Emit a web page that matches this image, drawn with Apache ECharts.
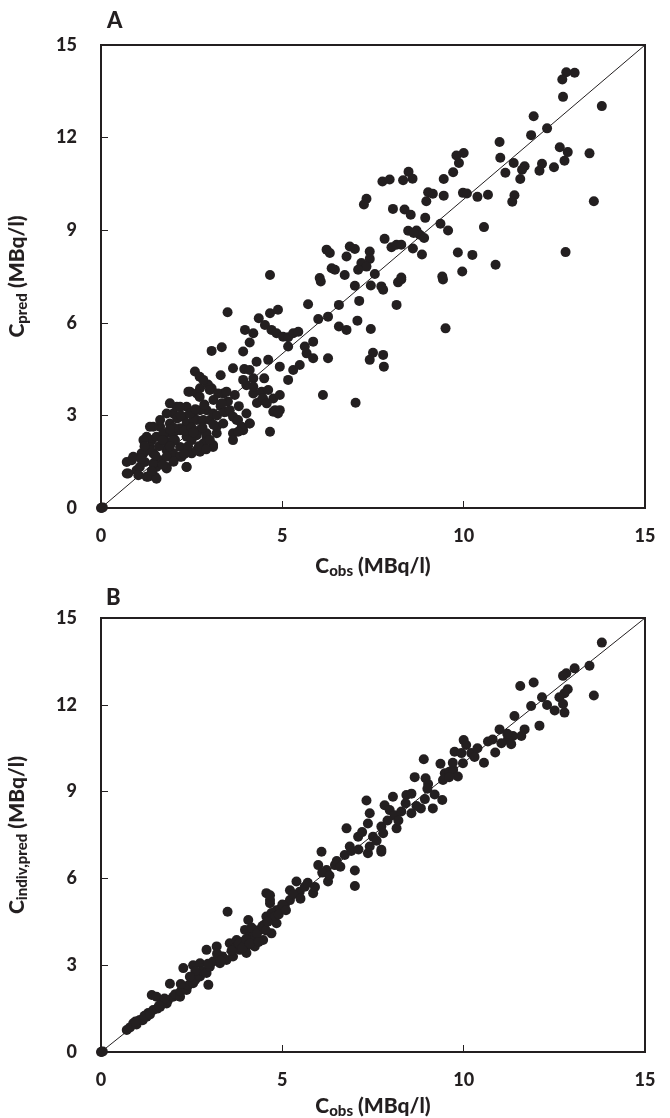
<!DOCTYPE html>
<html>
<head>
<meta charset="utf-8">
<script src="https://cdn.jsdelivr.net/npm/echarts@6/dist/echarts.min.js"></script>
<style>
  html, body { margin: 0; padding: 0; background: #fff; }
  #chart { width: 670px; height: 1118px; }
</style>
</head>
<body>
<div id="chart"></div>
<script>
// panel A: observed vs population predicted (MBq/l)
var pointsA = [
  [0, 0], [0.02, 0.01], [0.05, 0.02],
  [0.71, 1.49], [0.85, 1.55], [0.71, 1.12], [0.98, 1.22], [1.07, 1.33], [1.21, 1.49], [1.17, 1.77],
  [1.4, 2.2], [1.26, 2.31], [1.44, 1.77], [1.53, 1.33], [1.49, 1.01], [1.3, 1.01], [1.63, 1.55],
  [1.81, 1.33], [1.81, 1.87], [1.81, 2.14], [1.63, 2.63], [1.9, 2.74], [1.99, 3.06], [2.09, 3.28],
  [2.27, 2.95], [2.36, 2.74], [2.18, 2.58], [2.36, 2.31], [2.18, 1.98], [2.22, 1.66], [2.36, 1.33],
  [1.99, 1.77], [2.04, 2.2], [2.54, 3.06], [2.64, 2.85], [2.82, 2.85], [2.73, 2.52], [2.91, 2.31],
  [3.09, 1.98], [2.73, 1.82], [2.82, 2.09], [3.19, 2.42], [3.19, 2.63], [3.0, 2.85], [2.91, 3.17],
  [2.5, 2.2], [2.5, 1.77], [2.64, 2.36], [3.09, 3.06], [1.81, 2.42], [1.44, 2.63], [1.53, 2.31],
  [1.17, 2.2], [1.35, 1.98], [1.99, 2.42], [2.36, 3.28], [1.81, 3.06], [2.09, 2.52],
  [0.89, 1.66], [1.12, 1.77], [1.35, 1.87], [1.35, 2.63], [1.63, 2.85], [1.9, 3.39], [2.18, 3.28],
  [2.45, 3.77], [2.73, 3.88], [3.05, 3.88], [3.37, 3.71], [3.69, 3.66], [4.01, 3.98], [4.2, 3.71],
  [4.43, 3.5], [4.75, 3.12], [4.93, 3.17], [0.75, 1.12], [1.03, 1.06], [1.26, 1.01], [1.53, 0.95],
  [1.81, 1.28], [2.36, 1.33], [2.18, 1.66], [2.64, 1.87], [3.09, 2.04], [2.91, 2.42], [3.46, 3.12],
  [3.74, 2.85], [3.92, 2.52], [4.1, 2.74], [3.64, 2.42], [2.54, 2.85], [2.73, 3.17], [1.72, 2.42],
  [1.99, 2.2], [2.18, 2.52], [2.45, 3.06], [1.81, 1.66], [1.44, 1.44], [3.37, 2.74],
  [1.1, 1.6], [1.2, 2.0], [1.5, 1.7], [1.6, 2.0], [1.7, 2.2], [1.9, 2.0], [2.0, 2.6], [2.1, 2.9],
  [2.2, 3.0], [2.3, 2.5], [2.4, 2.0], [2.5, 2.6], [2.6, 3.2], [2.7, 2.0], [2.8, 2.6], [2.9, 1.9],
  [3.0, 2.2], [3.1, 2.7], [3.2, 3.0], [3.3, 3.3], [2.0, 1.5], [2.3, 1.75], [1.7, 1.4], [1.4, 1.2],
  [1.9, 2.55], [2.55, 2.45], [2.85, 3.35], [3.4, 3.1], [3.5, 3.45], [3.8, 3.3], [4.3, 3.4],
  [4.5, 4.2], [4.2, 4.2], [3.95, 4.5], [3.3, 4.3], [2.95, 4.0],
  [2.59, 4.42], [2.72, 4.25], [2.82, 4.15], [3.0, 3.82], [3.23, 3.71], [2.41, 3.77], [2.64, 3.71],
  [2.72, 3.6], [3.1, 3.5], [3.33, 3.39], [3.46, 3.77], [3.55, 3.17], [3.64, 2.96], [3.78, 2.85],
  [4.01, 3.06], [3.88, 2.63], [4.1, 2.74], [3.78, 2.47], [3.64, 2.2], [4.66, 2.47],
  [3.64, 4.53], [4.1, 4.47], [4.29, 4.74], [4.61, 4.8], [4.93, 4.58], [5.16, 4.15], [5.3, 4.47],
  [5.48, 4.63], [3.92, 4.15], [4.2, 3.93], [4.43, 3.77], [4.61, 3.82], [4.75, 3.55], [4.93, 3.66],
  [4.47, 3.55], [4.57, 3.39], [4.8, 3.17], [4.88, 3.06],
  [3.49, 6.34], [5.71, 6.6], [5.99, 6.12], [6.26, 6.2], [4.35, 6.15], [4.66, 6.31], [4.88, 6.42],
  [4.52, 5.93], [4.7, 5.77], [4.84, 5.66], [5.02, 5.55], [3.97, 5.77], [4.2, 5.66], [4.1, 5.36],
  [3.05, 5.09], [3.33, 5.21], [3.92, 5.07], [5.16, 5.53], [5.3, 5.66], [5.44, 5.71], [5.16, 5.23],
  [5.62, 5.23], [5.85, 5.39], [5.67, 5.01], [5.85, 4.85], [6.26, 4.85], [6.12, 3.66],
  [6.22, 8.37], [6.31, 8.26], [4.66, 7.55], [6.03, 7.45], [6.36, 7.77], [6.06, 7.34],
  [7.0, 7.2], [7.44, 7.21], [7.73, 7.18], [7.78, 7.07], [8.19, 7.31], [8.28, 7.4], [9.43, 7.4],
  [6.56, 6.58], [7.12, 6.71], [8.15, 6.58], [6.56, 5.88], [6.77, 5.77], [7.07, 6.07], [7.44, 5.8],
  [9.5, 5.82], [7.5, 5.03], [7.41, 4.8], [7.78, 4.96], [7.8, 4.58], [7.02, 3.41],
  [6.86, 8.47], [7.0, 8.39], [6.77, 8.15], [7.41, 8.31], [7.41, 8.07], [7.18, 7.94], [7.32, 7.82],
  [7.09, 7.72], [6.72, 7.55], [7.55, 7.58], [6.45, 7.72],
  [12.83, 14.12], [13.06, 14.1], [12.72, 13.88], [12.74, 13.32], [13.81, 13.02], [11.93, 12.69],
  [12.3, 12.3], [11.86, 12.08], [10.99, 11.86], [12.65, 11.69], [12.87, 11.53], [12.78, 11.25],
  [13.47, 11.49], [11.01, 11.35], [11.38, 11.18], [11.68, 11.07], [11.61, 10.96], [12.16, 11.15],
  [12.09, 10.93], [12.49, 11.04], [11.15, 10.86], [11.56, 10.66], [10.0, 11.5], [9.8, 11.42],
  [9.87, 11.18], [9.71, 10.88], [9.45, 10.66], [8.48, 10.89], [8.59, 10.67], [8.33, 10.62],
  [7.76, 10.58], [7.96, 10.64], [9.02, 10.23], [9.15, 10.18], [8.97, 9.94], [9.45, 10.12],
  [9.98, 10.21], [10.09, 10.19], [10.38, 10.08], [10.67, 10.15], [11.4, 10.13], [11.34, 9.92],
  [13.59, 9.94], [7.32, 10.02], [7.25, 9.83], [8.05, 9.69], [8.37, 9.67], [8.54, 9.5], [8.94, 9.4],
  [9.36, 9.21], [9.57, 8.99], [10.56, 9.1], [8.47, 8.98], [8.7, 8.99], [8.79, 8.85], [8.91, 8.75],
  [8.62, 8.91], [7.82, 8.72], [8.01, 8.45], [8.15, 8.53], [8.28, 8.53], [8.6, 8.41], [8.85, 8.21],
  [9.84, 8.28], [10.24, 8.2], [10.88, 7.88], [12.81, 8.29], [9.96, 7.66], [9.41, 7.5], [8.28, 7.47]
];

// panel B: observed vs individual predicted (MBq/l)
var pointsB = [
  [0, 0], [0.02, 0.01], [0.05, 0.02],
  [0.71, 0.76], [0.8, 0.85], [0.89, 0.99], [0.98, 0.95], [1.07, 1.11], [1.15, 1.1], [1.26, 1.22],
  [1.3, 1.35], [1.4, 1.97], [1.44, 1.45], [1.53, 1.91], [1.55, 1.5], [1.63, 1.56], [1.7, 1.7],
  [1.81, 1.68], [1.85, 1.8], [1.9, 2.36], [1.99, 1.91], [2.05, 2.0], [2.18, 1.91], [2.2, 2.1],
  [2.27, 2.9], [2.36, 2.14], [2.4, 2.3], [2.54, 2.38], [2.54, 3.0], [2.6, 2.5], [2.73, 2.61],
  [2.73, 3.07], [2.8, 2.8], [2.91, 2.73], [2.91, 3.53], [2.96, 2.32], [3.0, 2.95], [3.09, 3.13],
  [3.19, 3.65], [3.28, 3.07], [3.35, 3.3], [3.46, 3.18], [3.49, 4.85], [3.55, 3.76], [3.64, 3.3],
  [3.7, 3.6], [3.74, 3.87], [3.83, 3.53], [3.9, 3.8], [3.97, 4.22], [4.01, 3.65], [4.01, 3.42],
  [4.06, 4.56], [4.1, 4.0], [4.2, 3.99], [4.24, 3.65], [4.3, 4.2], [4.38, 4.22], [4.47, 3.87],
  [4.5, 4.4], [4.56, 4.68], [4.56, 5.49], [4.66, 5.14], [4.66, 5.25], [4.66, 5.42], [4.7, 4.1],
  [4.75, 4.6], [4.84, 4.45], [4.84, 4.9], [4.95, 4.95], [5.07, 5.08], [5.21, 5.25], [5.21, 5.59],
  [5.39, 5.89], [5.48, 5.54], [5.62, 5.71], [5.85, 5.49], [5.99, 6.46], [6.08, 6.92], [6.22, 6.29],
  [6.26, 5.89], [6.45, 6.46], [6.72, 6.81], [6.77, 7.73], [6.86, 7.1], [7.0, 6.27], [7.0, 5.74],
  [7.09, 7.44], [7.36, 7.9], [7.36, 6.87], [7.41, 7.1], [7.5, 7.44], [7.73, 7.79], [7.73, 6.92],
  [7.73, 6.99], [7.78, 7.56], [8.15, 7.73], [7.32, 8.69], [7.41, 8.25], [7.82, 8.53], [7.96, 8.36],
  [8.1, 8.18], [8.28, 8.31], [8.82, 8.42], [8.93, 8.74], [8.56, 8.25], [8.05, 8.82], [8.42, 8.88],
  [8.56, 8.93], [9.41, 8.71], [9.15, 8.42], [8.65, 9.5], [8.95, 9.46], [9.02, 9.26], [9.48, 9.63],
  [9.61, 9.69], [9.43, 9.4], [9.71, 9.75], [9.84, 9.52], [8.9, 10.12], [9.36, 9.96], [9.98, 9.98],
  [10.0, 10.78], [10.07, 10.61], [9.75, 10.38], [9.94, 10.33], [10.21, 10.33], [10.38, 10.5],
  [10.56, 10.0], [10.67, 10.73], [10.87, 10.35], [10.99, 11.15], [11.68, 11.15], [11.59, 10.92],
  [11.36, 10.92], [11.22, 10.8], [11.04, 10.67], [11.31, 10.64], [11.4, 11.61], [12.09, 11.28],
  [12.16, 12.26], [11.86, 11.96], [12.3, 11.99], [12.87, 12.54], [12.78, 12.4], [12.64, 12.26],
  [12.74, 12.03], [12.78, 11.73], [12.51, 11.8], [11.56, 12.65], [11.93, 12.77], [13.59, 12.32],
  [13.47, 13.35], [13.06, 13.26], [12.83, 13.09], [12.74, 13.0], [13.81, 14.15],
  [3.6, 3.5], [3.8, 3.75], [3.9, 3.6], [4.0, 3.9], [4.1, 3.75], [4.15, 4.3], [4.3, 4.1], [4.35, 3.8],
  [4.45, 4.35], [4.55, 4.2], [4.6, 4.5], [4.7, 4.8], [4.8, 4.7], [4.9, 4.75], [5.0, 5.1], [5.1, 4.9],
  [5.3, 5.45], [5.5, 5.3], [5.7, 5.85], [5.9, 5.7], [6.1, 6.2], [6.3, 6.1], [6.5, 6.6], [6.6, 6.4],
  [6.9, 6.95], [7.1, 7.0], [7.2, 7.6], [7.6, 7.3], [7.9, 8.0], [8.2, 8.0], [8.4, 8.6], [8.7, 8.5],
  [9.0, 9.1], [9.2, 8.9], [9.6, 9.5], [9.7, 10.0], [10.3, 10.2], [10.8, 10.8], [11.2, 11.0],
  [3.2, 3.4], [2.6, 2.8], [2.2, 2.35], [1.75, 1.85], [1.2, 1.25], [0.95, 1.05], [3.3, 3.15],
  [2.95, 3.05], [2.45, 2.6], [1.6, 1.6], [1.35, 1.3]
];

var identityLine = [[0, 0], [15, 15]];
var xTicks = { min: 0, max: 15, interval: 5 };
var yTicks = { min: 0, max: 15, interval: 3 };

var ink = '#231f20';
var labelFont = 'Lato, "DejaVu Sans", sans-serif';

function axisName(main, sub) {
	return '{c|' + main + '}{s|' + sub + '}{c| (MBq/l)}';
}

function nameStyle() {
	return {
		color : ink,
		fontFamily : labelFont,
		fontWeight : 900,
		rich : {
			c : { fontSize : 21, fontWeight : 900, fontFamily : labelFont, color : ink, lineHeight : 26 },
			s : { fontSize : 15, fontWeight : 900, fontFamily : labelFont, color : ink, lineHeight : 26, padding : [ 11, 0, 0, 0 ] }
		}
	};
}

function makeXAxis(idx, gap) {
	return {
		gridIndex : idx,
		type : 'value',
		min : xTicks.min,
		max : xTicks.max,
		interval : xTicks.interval,
		name : axisName('C', 'obs'),
		nameLocation : 'middle',
		nameGap : gap,
		nameTextStyle : nameStyle(),
		axisLine : { lineStyle : { color : ink, width : 2 } },
		axisTick : { inside : true, length : 7, lineStyle : { color : ink, width : 1 } },
		axisLabel : { color : ink, fontFamily : labelFont, fontWeight : 900, fontSize : 18, margin : 19 },
		splitLine : { show : false }
	};
}

function makeYAxis(idx, sub, gap) {
	return {
		gridIndex : idx,
		type : 'value',
		min : yTicks.min,
		max : yTicks.max,
		interval : yTicks.interval,
		name : axisName('C', sub),
		nameLocation : 'middle',
		nameGap : gap,
		nameRotate : 90,
		nameTextStyle : nameStyle(),
		axisLine : { lineStyle : { color : ink, width : 2 } },
		axisTick : { inside : true, length : 7, lineStyle : { color : ink, width : 1 } },
		axisLabel : { color : ink, fontFamily : labelFont, fontWeight : 900, fontSize : 18, margin : 24 },
		splitLine : { show : false }
	};
}

function scatterSeries(idx, data) {
	return {
		type : 'scatter',
		xAxisIndex : idx,
		yAxisIndex : idx,
		data : data,
		symbol : 'circle',
		symbolSize : 10,
		itemStyle : { color : ink, opacity : 1 },
		z : 3
	};
}

function lineSeries(idx) {
	return {
		type : 'line',
		xAxisIndex : idx,
		yAxisIndex : idx,
		data : identityLine,
		symbol : 'none',
		lineStyle : { color : ink, width : 1 },
		z : 2
	};
}

var myChart = echarts.init(document.getElementById('chart'), null, { renderer : 'canvas' });
myChart.setOption({
	backgroundColor : '#fff',
	animation : false,
	title : [ {
		text : 'A', left : 102, top : 5,
		textStyle : { color : ink, fontFamily : labelFont, fontWeight : 900, fontSize : 22 }
	}, {
		text : 'B', left : 101, top : 582,
		textStyle : { color : ink, fontFamily : labelFont, fontWeight : 900, fontSize : 22 }
	} ],
	grid : [ {
		left : 101, top : 45, width : 544, height : 463,
		outerBoundsMode : 'none', containLabel : false,
		show : true, borderColor : ink, borderWidth : 2, backgroundColor : 'transparent'
	}, {
		left : 101, top : 618, width : 544, height : 434,
		outerBoundsMode : 'none', containLabel : false,
		show : true, borderColor : ink, borderWidth : 2, backgroundColor : 'transparent'
	} ],
	xAxis : [ makeXAxis(0, 45), makeXAxis(1, 41) ],
	yAxis : [ makeYAxis(0, 'pred', 71), makeYAxis(1, 'indiv,pred', 71) ],
	series : [ lineSeries(0), scatterSeries(0, pointsA), lineSeries(1), scatterSeries(1, pointsB) ]
});
</script>
</body>
</html>
